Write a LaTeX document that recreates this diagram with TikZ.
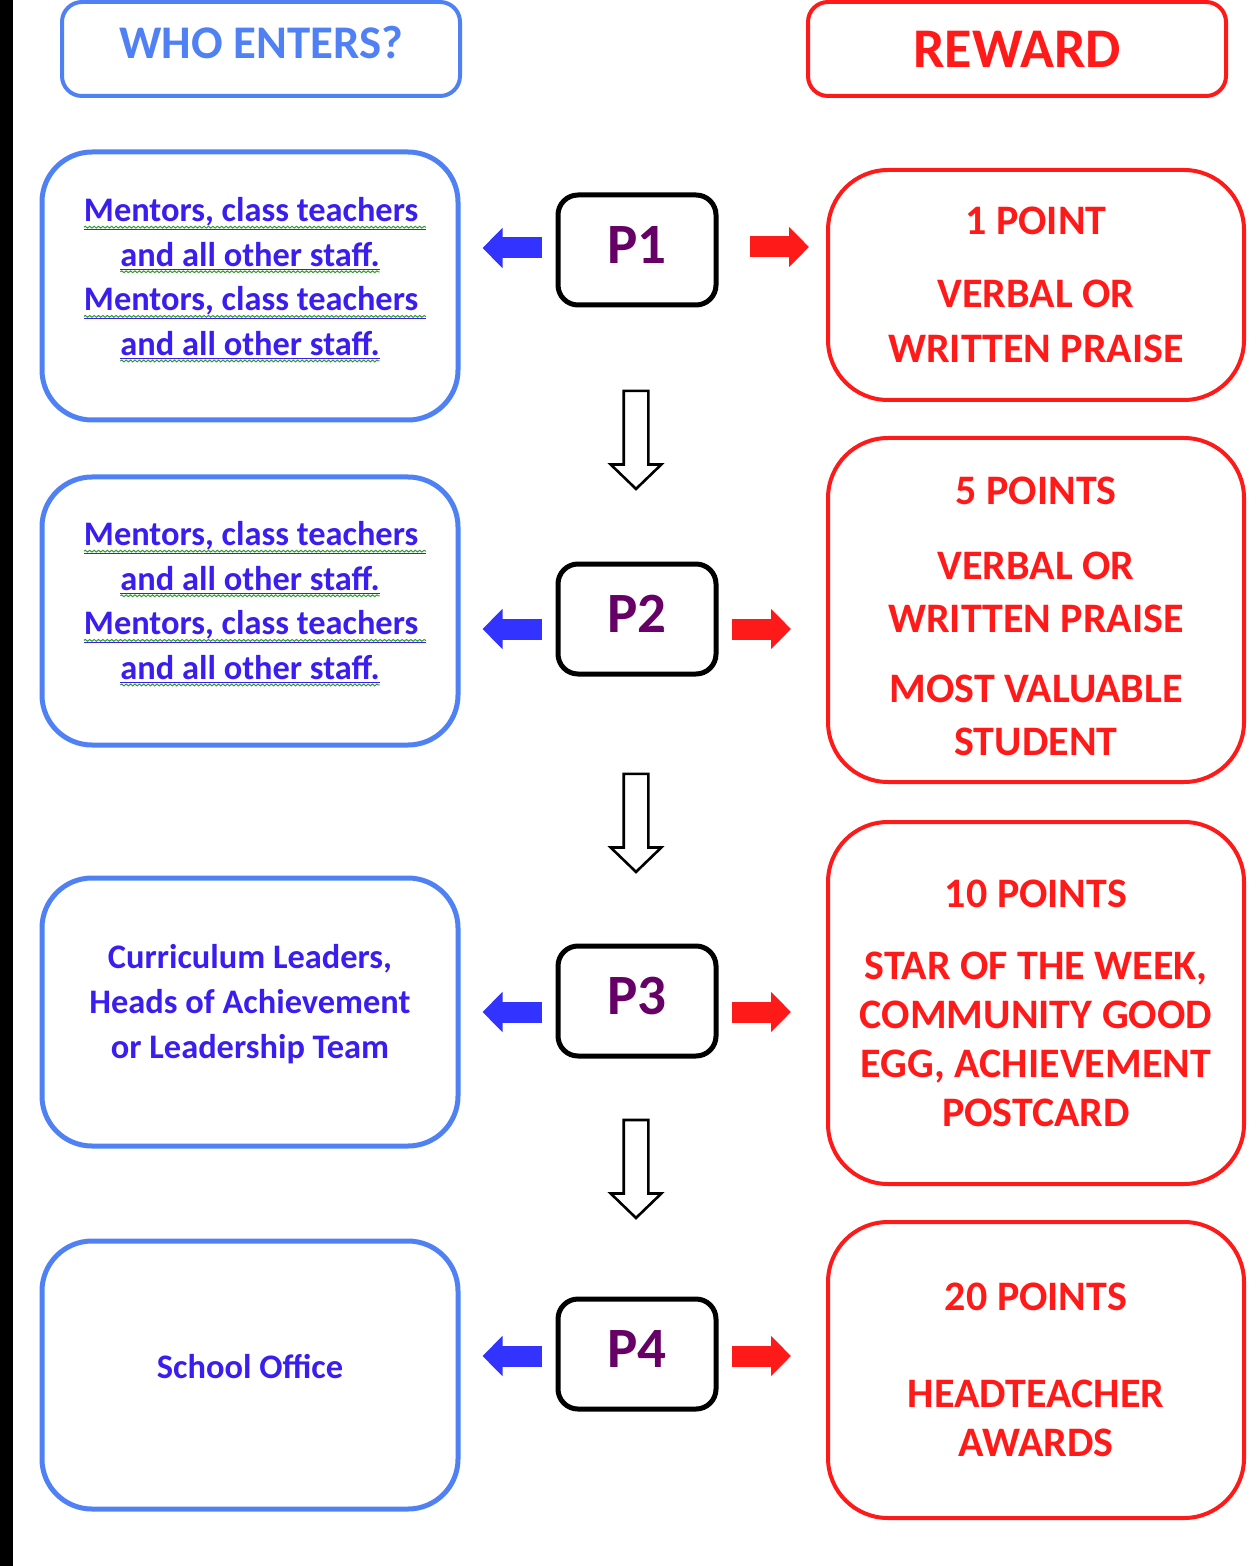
\documentclass[tikz,border=0pt]{standalone}
\usepackage{fontspec}
\setmainfont{Carlito}
\usepackage{tikz}
\usetikzlibrary{arrows.meta, shapes.arrows, decorations.pathmorphing}

\definecolor{boxblue}{HTML}{4F81F5}
\definecolor{textblue}{HTML}{3A1EF0}
\definecolor{arrowblue}{HTML}{3333FF}
\definecolor{rewardred}{HTML}{FF1A1A}
\definecolor{ppurple}{HTML}{660066}
\definecolor{spellgreen}{HTML}{2E9B2E}

% underlined link text with the green spell-check wave below it
\newcommand{\linktext}[1]{\tikz[baseline=(w.base)]{%
    \node[rectangle, draw=none, sharp corners, inner sep=0pt, outer sep=0pt,
          minimum width=0pt, minimum height=0pt] (w) {\underline{#1}};
    \draw[draw=spellgreen, sharp corners, line width=0.5pt, decorate,
          decoration={snake, amplitude=0.45pt, segment length=2.2pt}]
        ([yshift=-2.8pt]w.base west) -- ([yshift=-2.8pt]w.base east);}}
% struts that move a text block up (depth) or down (height) in its box
\newcommand{\liftby}[1]{\rule[-#1]{0pt}{0pt}}
\newcommand{\dropby}[1]{\rule{0pt}{#1}}

\tikzset{
    headbox/.style={draw, rounded corners=10pt, line width=2pt,
                    minimum height=47pt, font=\bfseries},
    whobox/.style={draw=boxblue, rounded corners=25pt, line width=2.5pt,
                   minimum width=208pt, minimum height=134pt,
                   text=textblue, align=center,
                   font=\bfseries\fontsize{17.2pt}{22.3pt}\selectfont},
    pbox/.style={draw=black, rounded corners=10pt, line width=2.5pt,
                 minimum width=79pt, minimum height=55pt, text=ppurple,
                 font=\bfseries\fontsize{28.5pt}{30pt}\selectfont},
    rewardbox/.style={draw=rewardred, rounded corners=30pt, line width=2pt,
                      minimum width=208pt, text=rewardred, align=center},
    leftarrow/.style={arrowblue, line width=10.5pt,
                      -{Triangle[length=10pt, width=19.5pt]}},
    rightarrow/.style={rewardred, line width=10.5pt,
                       -{Triangle[length=10pt, width=19.5pt]}},
    downarrow/.style={single arrow, draw=black, fill=white, line width=1.3pt,
                      shape border rotate=270, inner sep=5.5pt,
                      minimum height=49pt, single arrow head extend=6.5pt,
                      single arrow tip angle=92, single arrow head indent=0pt}
}

\begin{document}
\begin{tikzpicture}[x=0.5pt, y=-0.5pt]
        \useasboundingbox (0,0) rectangle (1256,1566);
        \fill[black] (0,0) rectangle (13,1566);

        % Add the column headings
        \node[headbox,
              draw=boxblue,
              text=boxblue,
              minimum width=199pt,
              font=\bfseries\fontsize{23.4pt}{24pt}\selectfont] (who) at (261,49) {\raisebox{7pt}{WHO ENTERS?}};
        \node[headbox,
              draw=rewardred,
              text=rewardred,
              minimum width=209pt,
              font=\bfseries\fontsize{28pt}{30pt}\selectfont] (reward) at (1017,49) {REWARD};

        % Add the stages
        \node[pbox] (pA) at (637,250) {\raisebox{5pt}{P1}};
        \node[pbox] (pB) at (637,619) {\raisebox{5pt}{P2}};
        \node[pbox] (pC) at (637,1001) {\raisebox{5pt}{P3}};
        \node[pbox] (pD) at (637,1354) {\raisebox{5pt}{P4}};

        % Add who enters
        \node[whobox] (whoA) at (250,286)
            {\hspace*{5pt}\linktext{Mentors, class teachers\ }\\\linktext{and all other staff.}\\
             \hspace*{5pt}\linktext{Mentors, class teachers\ }\\\linktext{and all other staff.}\liftby{9.6pt}};
        \node[whobox] (whoB) at (250,611)
            {\hspace*{5pt}\linktext{Mentors, class teachers\ }\\\linktext{and all other staff.}\\
             \hspace*{5pt}\linktext{Mentors, class teachers\ }\\\linktext{and all other staff.}\liftby{10.6pt}};
        \node[whobox, font=\bfseries\fontsize{17.2pt}{22.7pt}\selectfont] (whoC) at (250,1012)
            {Curriculum Leaders,\\Heads of Achievement\\or Leadership Team\liftby{10.5pt}};
        \node[whobox, font=\bfseries\fontsize{17.2pt}{22.7pt}\selectfont] (whoD) at (250,1375)
            {School Office\liftby{9pt}};

        % Add the rewards
        \node[rewardbox, minimum height=115pt,
              font=\bfseries\fontsize{21pt}{27.5pt}\selectfont] (rewA) at (1036,285)
            {1 POINT\\[9pt]VERBAL OR\\WRITTEN PRAISE};
        \node[rewardbox, minimum height=172pt,
              font=\bfseries\fontsize{21pt}{26.5pt}\selectfont] (rewB) at (1036,610)
            {\dropby{20pt}5 POINTS\\[11pt]VERBAL OR\\WRITTEN PRAISE\\[8.5pt]MOST VALUABLE\\STUDENT};
        \node[rewardbox, minimum height=181pt,
              font=\bfseries\fontsize{21pt}{24.5pt}\selectfont] (rewC) at (1036,1003)
            {10 POINTS\\[11.5pt]STAR OF THE WEEK,\\COMMUNITY GOOD\\EGG, ACHIEVEMENT\\POSTCARD};
        \node[rewardbox, minimum height=148pt,
              font=\bfseries\fontsize{21pt}{24.5pt}\selectfont] (rewD) at (1036,1370)
            {20 POINTS\\[24pt]HEADTEACHER\\AWARDS};

        % Connect the stages with arrows
        \draw[leftarrow, shorten <=7pt, shorten >=11pt] ([yshift=1pt]pA.west) -- ([yshift=1pt]pA.west -| whoA.east);
        \draw[leftarrow, shorten <=7pt, shorten >=11pt] ([yshift=-5pt]pB.west) -- ([yshift=-5pt]pB.west -| whoB.east);
        \draw[leftarrow, shorten <=7pt, shorten >=11pt] ([yshift=-5.5pt]pC.west) -- ([yshift=-5.5pt]pC.west -| whoC.east);
        \draw[leftarrow, shorten <=7pt, shorten >=11pt] ([yshift=-1pt]pD.west) -- ([yshift=-1pt]pD.west -| whoD.east);

        \draw[rightarrow, shorten <=15.5pt, shorten >=8.5pt] ([yshift=1.5pt]pA.east) -- ([yshift=1.5pt]pA.east -| rewA.west);
        \draw[rightarrow, shorten <=6.5pt, shorten >=17.5pt] ([yshift=-5pt]pB.east) -- ([yshift=-5pt]pB.east -| rewB.west);
        \draw[rightarrow, shorten <=6.5pt, shorten >=17.5pt] ([yshift=-5.5pt]pC.east) -- ([yshift=-5.5pt]pC.east -| rewC.west);
        \draw[rightarrow, shorten <=6.5pt, shorten >=17.5pt] ([yshift=-1pt]pD.east) -- ([yshift=-1pt]pD.east -| rewD.west);

        \node[downarrow] (downA) at (636,434) {};
        \node[downarrow] (downB) at (636,817) {};
        \node[downarrow] (downC) at (636,1163) {};
    \end{tikzpicture}
\end{document}
